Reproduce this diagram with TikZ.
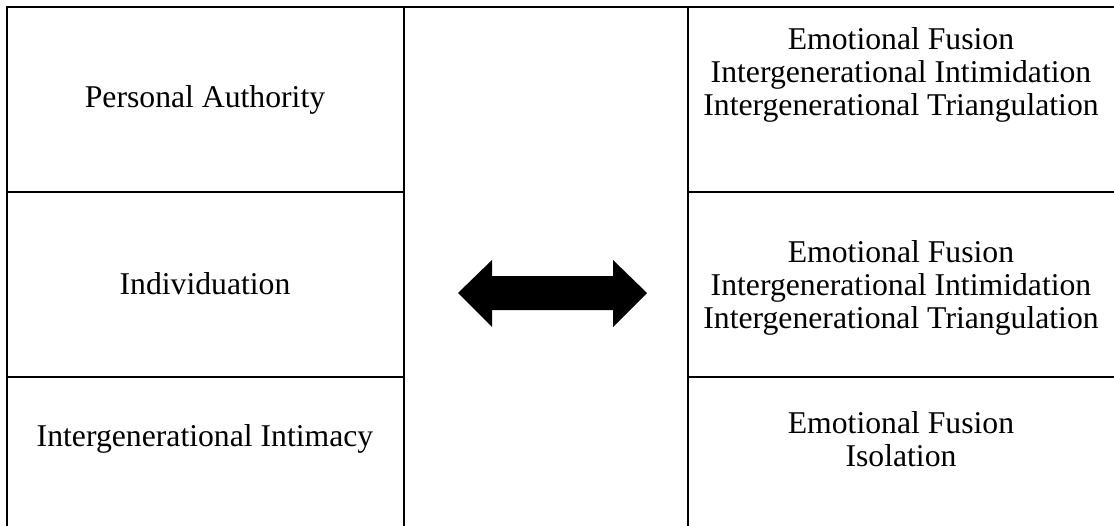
\documentclass[tikz,border=0pt]{standalone}
\usepackage{fontspec}
\setmainfont{Liberation Serif}
\begin{document}
\begin{tikzpicture}[x=1pt,y=-1pt,
  rule/.style={line width=2.4pt,line cap=rect},
  celltext/.style={align=center,inner sep=0pt,font=\fontsize{31.7}{33}\selectfont}]
\useasboundingbox (0,0) rectangle (1114,525);
% frame lines
\draw[rule] (7,7) -- (1114,7);
\draw[rule] (7,7) -- (7,525);
\draw[rule] (404,7) -- (404,525);
\draw[rule] (688,7) -- (688,525);
\draw[rule] (7,192) -- (404,192);
\draw[rule] (7,377) -- (404,377);
\draw[rule] (688,192) -- (1114,192);
\draw[rule] (688,377) -- (1114,377);
% left texts
\node[celltext] (l1) at (205,100) {Personal Authority};
\node[celltext] (l2) at (205,284) {Individuation};
\node[celltext] (l3) at (205,439) {Intergenerational Intimacy};
% right texts
\node[celltext] (r1) at (901,75) {Emotional Fusion\\Intergenerational Intimidation\\Intergenerational Triangulation};
\node[celltext] (r2) at (901,288) {Emotional Fusion\\Intergenerational Intimidation\\Intergenerational Triangulation};
\node[celltext] (r3) at (901,439) {Emotional Fusion\\Isolation};
% double arrow
\fill[black] (458,293) -- (492,260) -- (492,276) -- (613,276) -- (613,260)
  -- (647,293) -- (613,327) -- (613,310) -- (492,310) -- (492,327) -- cycle;
\end{tikzpicture}
\end{document}
